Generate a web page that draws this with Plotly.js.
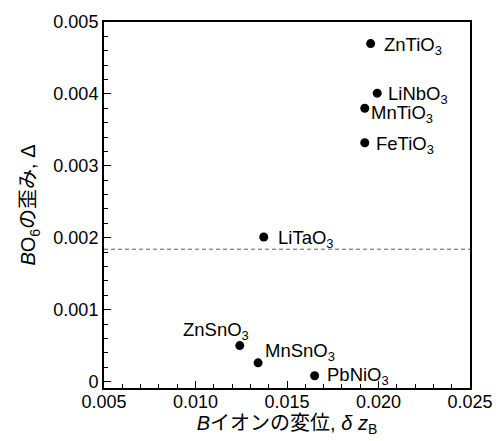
<!DOCTYPE html>
<html>
<head>
<meta charset="utf-8">
<script src="https://cdn.plot.ly/plotly-3.0.1.min.js"></script>
<style>html,body{margin:0;padding:0;background:#fff;}#chart{width:496px;height:441px;}</style>
</head>
<body>
<div id="chart"></div>
<script>
// Data
const compounds = ['ZnTiO<sub>3</sub>','LiNbO<sub>3</sub>','MnTiO<sub>3</sub>','FeTiO<sub>3</sub>','LiTaO<sub>3</sub>','ZnSnO<sub>3</sub>','MnSnO<sub>3</sub>','PbNiO<sub>3</sub>'];
const deltaZ = [0.01957, 0.01993, 0.01925, 0.01925, 0.01373, 0.01242, 0.01342, 0.01651];
const distortion = [0.00470, 0.00401, 0.00380, 0.00332, 0.00201, 0.00050, 0.00026, 0.00008];
const thresholdValue = [0.00184];
const xTickVals = [0.005, 0.010, 0.015, 0.020, 0.025];
const xTickText = ['0.005', '0.010', '0.015', '0.020', '0.025'];
const yTickVals = [0, 0.001, 0.002, 0.003, 0.004, 0.005];
const yTickText = ['0', '0.001', '0.002', '0.003', '0.004', '0.005'];

// Label placement (styling only)
const labelStyle = [
  {xanchor:'left', xshift:11, yshift:-2},
  {xanchor:'left', xshift:9, yshift:-2},
  {xanchor:'left', xshift:4, yshift:-6},
  {xanchor:'left', xshift:9, yshift:-2},
  {xanchor:'left', xshift:12, yshift:-2},
  {xanchor:'right', xshift:11, yshift:15},
  {xanchor:'left', xshift:5, yshift:11},
  {xanchor:'left', xshift:10, yshift:0}
];

const FONT = 'Liberation Sans, Arial, Noto Sans CJK JP, sans-serif';

const trace = {
  x: deltaZ, y: distortion, mode: 'markers', type: 'scatter',
  marker: {color: '#000', size: 9},
  hoverinfo: 'skip', showlegend: false, cliponaxis: false
};

const annotations = compounds.map((c, i) => ({
  x: deltaZ[i], y: distortion[i], xref: 'x', yref: 'y',
  text: c, showarrow: false,
  xanchor: labelStyle[i].xanchor, yanchor: 'middle',
  xshift: labelStyle[i].xshift, yshift: labelStyle[i].yshift,
  font: {family: FONT, size: 18.5, color: '#000'}
}));

const layout = {
  width: 496, height: 441,
  margin: {l: 104, r: 26, t: 22, b: 53},
  paper_bgcolor: '#fff', plot_bgcolor: '#fff',
  font: {family: FONT, size: 18, color: '#000'},
  xaxis: {
    range: [0.005, 0.025], tickvals: xTickVals, ticktext: xTickText,
    ticks: 'inside', ticklen: 7, tickwidth: 1, tickcolor: '#000',
    ticklabelstandoff: -4,
    minor: {ticks: 'inside', dtick: 0.001, tick0: 0.005, ticklen: 4, tickwidth: 1, tickcolor: '#000', showgrid: false},
    showline: true, linecolor: '#000', linewidth: 2, mirror: true,
    showgrid: false, zeroline: false,
    tickfont: {family: FONT, size: 18, color: '#000'},
    title: {text: '<i>B</i>イオンの変位, <i>δ z</i><sub>B</sub>', font: {family: FONT, size: 20, color: '#000'}, standoff: 4}
  },
  yaxis: {
    range: [-0.00009, 0.005], tickvals: yTickVals, ticktext: yTickText,
    ticks: 'inside', ticklen: 7, tickwidth: 1, tickcolor: '#000',
    minor: {ticks: 'inside', dtick: 0.0002, tick0: 0, ticklen: 4, tickwidth: 1, tickcolor: '#000', showgrid: false},
    showline: true, linecolor: '#000', linewidth: 2, mirror: true,
    showgrid: false, zeroline: false,
    tickfont: {family: FONT, size: 18, color: '#000'},
    title: {text: '<i>B</i>O<sub>6</sub>の歪み, Δ', font: {family: FONT, size: 20, color: '#000'}, standoff: 12}
  },
  shapes: [{
    type: 'line', xref: 'paper', yref: 'y', x0: 0, x1: 1,
    y0: thresholdValue[0], y1: thresholdValue[0],
    line: {color: '#333', width: 0.8, dash: '4px,3px'}
  }],
  annotations: annotations
};

Plotly.newPlot('chart', [trace], layout, {staticPlot: true, displayModeBar: false});
</script>
</body>
</html>
